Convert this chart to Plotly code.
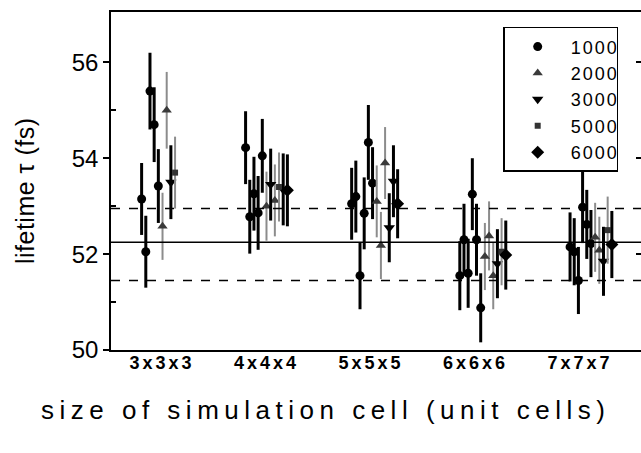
import plotly.graph_objects as go

# ---------------- data ----------------
groups = ["3x3x3", "4x4x4", "5x5x5", "6x6x6", "7x7x7"]
series_names = ["1000", "2000", "3000", "5000", "6000"]

# each group: points listed left-to-right (series label, lifetime, error)
g1_series = ["1000", "1000", "1000", "1000", "1000", "2000", "2000", "3000", "5000"]
g1_tau = [53.15, 52.05, 55.40, 54.70, 53.42, 52.58, 55.00, 53.50, 53.70]
g1_err = [0.75, 0.75, 0.80, 0.78, 0.77, 0.70, 0.80, 0.77, 0.75]

g2_series = ["1000", "1000", "1000", "1000", "1000", "2000", "3000", "2000", "5000", "3000", "6000"]
g2_tau = [54.22, 52.78, 53.26, 52.86, 54.05, 53.00, 53.45, 53.12, 53.40, 53.35, 53.33]
g2_err = [0.76, 0.77, 0.77, 0.77, 0.77, 0.72, 0.75, 0.75, 0.72, 0.75, 0.75]

g3_series = ["1000", "1000", "1000", "1000", "1000", "1000", "2000", "2000", "2000", "3000", "3000", "6000"]
g3_tau = [53.05, 53.20, 51.55, 52.85, 54.33, 53.48, 53.10, 52.18, 53.90, 52.55, 53.52, 53.05]
g3_err = [0.75, 0.75, 0.70, 0.75, 0.78, 0.75, 0.75, 0.70, 0.75, 0.72, 0.75, 0.72]

g4_series = ["1000", "1000", "1000", "1000", "1000", "1000", "2000", "2000", "2000", "3000", "5000", "6000"]
g4_tau = [51.55, 52.30, 51.60, 53.25, 52.30, 50.88, 51.95, 52.38, 51.55, 51.80, 52.05, 51.98]
g4_err = [0.72, 0.75, 0.72, 0.75, 0.75, 0.72, 0.70, 0.72, 0.70, 0.72, 0.70, 0.72]

g5_series = ["1000", "1000", "1000", "1000", "1000", "1000", "2000", "2000", "3000", "5000", "6000"]
g5_tau = [52.15, 52.05, 51.45, 52.98, 52.62, 52.22, 52.35, 52.08, 51.85, 52.50, 52.20]
g5_err = [0.72, 0.70, 0.70, 0.75, 0.72, 0.70, 0.72, 0.70, 0.72, 0.70, 0.70]

ref_mean = 52.25
ref_band = [52.95, 51.45]

group_series = [g1_series, g2_series, g3_series, g4_series, g5_series]
group_tau = [g1_tau, g2_tau, g3_tau, g4_tau, g5_tau]
group_err = [g1_err, g2_err, g3_err, g4_err, g5_err]

# ---------------- styles ----------------
styles = {
    "1000": dict(symbol="circle", size=9, color="black", ecol="black", eth=3),
    "2000": dict(symbol="triangle-up", size=9, color="#3a3a3a", ecol="#8c8c8c", eth=2),
    "3000": dict(symbol="triangle-down", size=10, color="black", ecol="black", eth=3),
    "5000": dict(symbol="square", size=6, color="#333333", ecol="#8c8c8c", eth=2),
    "6000": dict(symbol="diamond", size=10, color="black", ecol="black", eth=3),
}

# spread the points of a cluster side by side around each category
step = 0.04
drift = 0.035

pts = {s: dict(x=[], y=[], e=[]) for s in series_names}
for gi, (ser, tau, err) in enumerate(zip(group_series, group_tau, group_err)):
    n = len(ser)
    for k in range(n):
        xpos = (gi + 1) + (k - (n - 1) / 2) * step + drift * (gi - 1)
        pts[ser[k]]["x"].append(xpos)
        pts[ser[k]]["y"].append(tau[k])
        pts[ser[k]]["e"].append(err[k])

fig = go.Figure()

# reference lines
fig.add_hline(y=ref_mean, line=dict(color="black", width=1.5))
for yb in ref_band:
    fig.add_hline(y=yb, line=dict(color="black", width=1.5, dash="dash"))

for s in series_names:
    st = styles[s]
    fig.add_trace(go.Scatter(
        x=pts[s]["x"], y=pts[s]["y"], mode="markers", name=s,
        marker=dict(symbol=st["symbol"], size=st["size"], color=st["color"],
                    line=dict(width=0)),
        error_y=dict(type="data", array=pts[s]["e"], visible=True,
                     color=st["ecol"], thickness=st["eth"], width=0),
    ))

# invisible trace for right-side ticks
fig.add_trace(go.Scatter(x=[1], y=[50], yaxis="y2", showlegend=False,
                         mode="markers", marker=dict(opacity=0), hoverinfo="skip"))

FONT = "Liberation Sans, Arial, Helvetica, sans-serif"

fig.update_layout(
    width=641, height=453,
    margin=dict(l=111, r=0, t=12, b=103),
    paper_bgcolor="white", plot_bgcolor="white",
    font=dict(family=FONT, color="black"),
    showlegend=True,
    legend=dict(x=0.74, y=0.956, xanchor="left", yanchor="top",
                bgcolor="white", bordercolor="black", borderwidth=1.5,
                font=dict(size=18, family=FONT), itemwidth=56,
                tracegroupgap=0),
    xaxis=dict(range=[0.512, 5.584], tickvals=[1, 2, 3, 4, 5], ticktext=groups,
               showgrid=False, zeroline=False, showline=True, mirror=True,
               linecolor="black", linewidth=1.5, ticks="",
               tickfont=dict(size=18, family=FONT, weight="bold"), ticklabelstandoff=-4),
    yaxis=dict(range=[50, 57.05], tickvals=[50, 52, 54, 56],
               showgrid=False, zeroline=False, showline=True, mirror=False,
               linecolor="black", linewidth=1.5, ticks="outside", ticklen=6,
               tickwidth=1.5, tickcolor="black",
               minor=dict(tickvals=[51, 53, 55], ticks="inside", ticklen=5,
                          tickwidth=1.5, tickcolor="black"),
               tickfont=dict(size=24, family=FONT)),
    yaxis2=dict(range=[50, 57.05], overlaying="y", side="right", showline=False,
                showgrid=False, zeroline=False, showticklabels=False,
                tickvals=[52, 54, 56], ticks="inside", ticklen=5, tickwidth=1.5,
                tickcolor="black"),
    annotations=[
        dict(text="size of simulation cell (unit cells)", xref="paper", yref="paper",
             x=0.404, y=-0.178, xanchor="center", yanchor="middle", showarrow=False,
             font=dict(size=26, family=FONT)),
        dict(text="lifetime τ (fs)", xref="paper", yref="paper",
             x=-0.162, y=0.47, xanchor="center", yanchor="middle", showarrow=False,
             textangle=-90, font=dict(size=25, family=FONT)),
    ],
)

post = """
var gd = document.getElementsByClassName('plotly-graph-div')[0];
gd.querySelectorAll('.xtick text').forEach(function(e){e.style.letterSpacing='3px';});
var ann = gd.querySelectorAll('.annotation-text');
if (ann.length > 0) { ann[0].style.letterSpacing = '5.5px'; }
if (ann.length > 1) { ann[1].style.letterSpacing = '0.5px'; }
gd.querySelectorAll('.legendtext').forEach(function(e){e.style.letterSpacing='2px';});
"""

fig.write_html("out.html", post_script=post)
